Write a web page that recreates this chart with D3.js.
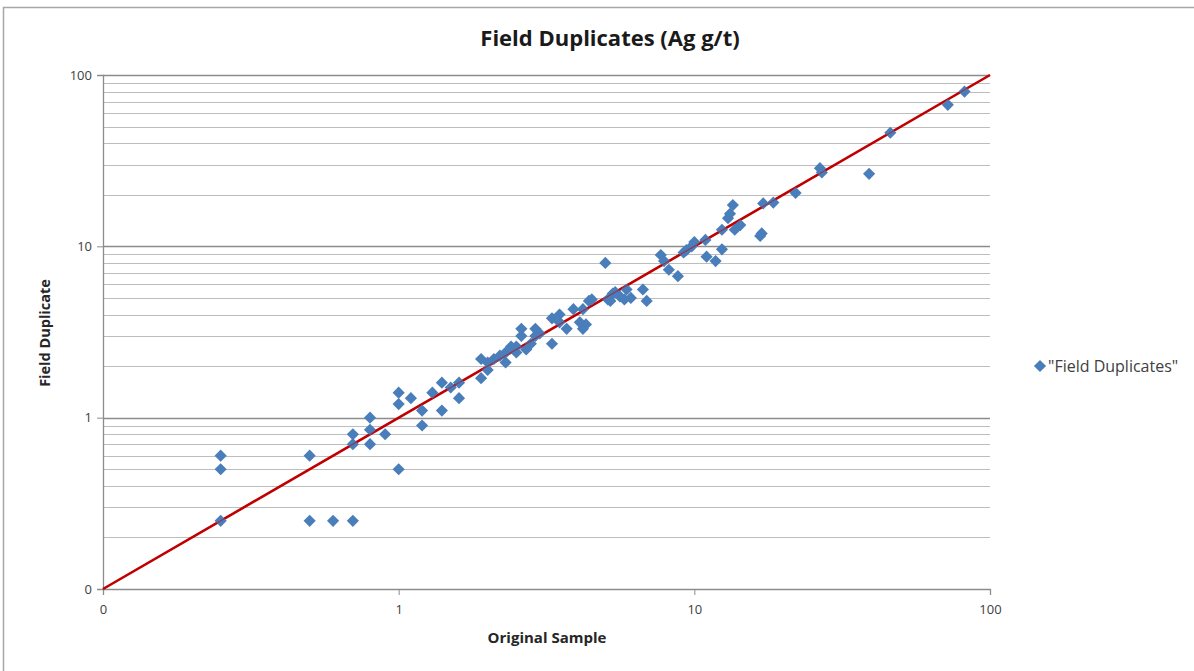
<!DOCTYPE html>
<html>
<head>
<meta charset="utf-8">
<script src="https://cdn.jsdelivr.net/npm/d3@7"></script>
<style>
  html, body { margin: 0; padding: 0; background: #ffffff; }
  svg { display: block; }
  text { font-family: "Open Sans", "Liberation Sans", sans-serif; }
</style>
</head>
<body>
<svg id="chart" width="1194" height="671"></svg>
<script>
// ---- data ----
const title = "Field Duplicates (Ag g/t)";
const xLabel = "Original Sample";
const yLabel = "Field Duplicate";
const seriesName = "\"Field Duplicates\"";
const tickValues = [0.1, 1, 10, 100];
const tickLabels = ["0", "1", "10", "100"];
const originalSample = [
  0.25, 0.25, 0.25, 0.5, 0.5, 0.6, 0.7, 0.7, 0.7, 0.8, 0.8, 0.8, 0.9,
  1.0, 1.0, 1.0, 1.1, 1.2, 1.2, 1.3, 1.4, 1.4, 1.5, 1.6, 1.6,
  1.9, 1.9, 2.0, 2.0, 2.1, 2.2, 2.3, 2.3, 2.4, 2.5, 2.5, 2.6, 2.6, 2.7, 2.8, 2.9, 2.9, 3.0,
  3.3, 3.3, 3.5, 3.5, 3.7, 3.9, 4.1, 4.2, 4.3, 4.4, 4.2, 4.5,
  5.0, 5.1, 5.2, 5.3, 5.4, 5.6, 5.8, 5.9, 6.1, 6.7, 6.9,
  7.7, 7.9, 8.2, 8.8, 9.2, 9.4, 9.8, 10, 10.9, 11, 11.8, 12.4, 12.4, 13, 13.2, 13.5, 13.7, 14.3,
  16.9, 16.7, 17.1, 18.5, 22, 26.6, 27, 39, 46, 72, 82
];
const fieldDuplicate = [
  0.6, 0.5, 0.25, 0.6, 0.25, 0.25, 0.25, 0.8, 0.7, 1.0, 0.85, 0.7, 0.8,
  0.5, 1.4, 1.2, 1.3, 1.1, 0.9, 1.4, 1.6, 1.1, 1.5, 1.6, 1.3,
  2.2, 1.7, 2.1, 1.9, 2.2, 2.3, 2.4, 2.1, 2.6, 2.4, 2.6, 3.0, 3.3, 2.5, 2.7, 3.3, 3.0, 3.1,
  2.7, 3.8, 4.0, 3.6, 3.3, 4.3, 3.6, 3.3, 3.5, 4.8, 4.3, 4.9,
  8.0, 4.9, 4.8, 5.3, 5.4, 5.1, 4.9, 5.6, 5.0, 5.6, 4.8,
  8.9, 8.2, 7.3, 6.7, 9.2, 9.5, 10, 10.6, 10.9, 8.7, 8.2, 9.6, 12.5, 14.6, 15.5, 17.4, 12.5, 13.3,
  11.9, 11.5, 17.8, 18, 20.5, 28.6, 27, 26.5, 46, 67, 80
];
const referenceLine = [0.1, 100];

// ---- layout ----
const svg = d3.select("#chart");
const L = 103, R = 990, T = 75, B = 589;
const x = d3.scaleLog().domain([0.1, 100]).range([L, R]);
const y = d3.scaleLog().domain([0.1, 100]).range([B, T]);

// outer border
svg.append("rect").attr("x", 3.5).attr("y", 7.5).attr("width", 1300).attr("height", 800)
  .attr("fill", "none").attr("stroke", "#a6a6a6").attr("stroke-width", 1.5);

// gridlines (major + minor)
const gridVals = [];
[0.1, 1, 10].forEach(d => { for (let k = 1; k <= 9; k++) gridVals.push(+(d * k).toPrecision(3)); });
gridVals.push(100);
svg.append("g").selectAll("line").data(gridVals.filter(v => v > 0.1)).join("line")
  .attr("x1", L).attr("x2", R)
  .attr("y1", d => Math.round(y(d)) + 0.5).attr("y2", d => Math.round(y(d)) + 0.5)
  .attr("stroke", d => tickValues.includes(d) ? "#8c8c8c" : "#bdbdbd")
  .attr("stroke-width", d => tickValues.includes(d) ? 1.3 : 1);

// axes
const yAxis = d3.axisLeft(y).tickValues(tickValues).tickFormat((d, i) => tickLabels[i]).tickSize(6).tickPadding(5);
const gy = svg.append("g").attr("transform", `translate(${L},0)`).call(yAxis);
const xAxis = d3.axisBottom(x).tickValues(tickValues).tickFormat((d, i) => tickLabels[i]).tickSize(6).tickPadding(10);
const gx = svg.append("g").attr("transform", `translate(0,${B})`).call(xAxis);
[gx, gy].forEach(g => {
  g.select(".domain").attr("stroke", "#8c8c8c").attr("stroke-width", 1.3);
  g.selectAll(".tick line").attr("stroke", "#8c8c8c");
  g.selectAll(".tick text").attr("fill", "#404040").attr("font-size", 13)
    .style("font-family", "\"Open Sans\", sans-serif");
});

// reference line y = x
svg.append("line")
  .attr("x1", x(referenceLine[0])).attr("y1", y(referenceLine[0]))
  .attr("x2", x(referenceLine[1])).attr("y2", y(referenceLine[1]))
  .attr("stroke", "#c00000").attr("stroke-width", 2.6);

// points
const pts = originalSample.map((v, i) => ({ x: v, y: fieldDuplicate[i] }));
const diamond = d3.symbol().type(d3.symbolSquare).size(74);
svg.append("g").selectAll("path").data(pts).join("path")
  .attr("d", diamond)
  .attr("transform", d => `translate(${x(d.x)},${y(d.y)}) rotate(45)`)
  .attr("fill", "#4a7ebb");

// thin line visible over the markers
svg.append("line")
  .attr("x1", x(referenceLine[0])).attr("y1", y(referenceLine[0]))
  .attr("x2", x(referenceLine[1])).attr("y2", y(referenceLine[1]))
  .attr("stroke", "#c00000").attr("stroke-width", 1.2).attr("opacity", 0.55);

// title
svg.append("text").attr("x", 610).attr("y", 46).attr("text-anchor", "middle")
  .attr("font-size", 22).attr("font-weight", "bold").attr("fill", "#1a1a1a").text(title);

// axis titles
svg.append("text").attr("x", 547).attr("y", 643).attr("text-anchor", "middle")
  .attr("font-size", 15).attr("font-weight", "bold").attr("fill", "#262626").text(xLabel);
svg.append("text").attr("transform", "translate(50,333) rotate(-90)").attr("text-anchor", "middle")
  .attr("font-size", 14.5).attr("font-weight", "bold").attr("fill", "#262626").text(yLabel);

// legend
const lg = svg.append("g").attr("transform", "translate(1040,366)");
lg.append("path").attr("d", diamond).attr("transform", "rotate(45)").attr("fill", "#4a7ebb");
lg.append("text").attr("x", 8).attr("y", 5.5).attr("font-size", 16).attr("fill", "#404040").text(seriesName);
</script>
</body>
</html>
